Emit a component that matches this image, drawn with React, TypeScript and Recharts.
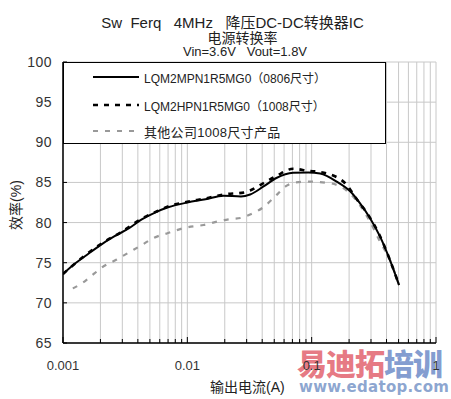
import React from 'react';
import { LineChart, Line, XAxis, YAxis, CartesianGrid } from 'recharts';

// LQM2MPN1R5MG0 (0806) - solid black
const mpCurrent = [0.001, 0.00125, 0.0015, 0.002, 0.0026, 0.0034, 0.0043, 0.0055, 0.007, 0.01, 0.014, 0.0195, 0.027, 0.032, 0.041, 0.052, 0.071, 0.094, 0.117, 0.159, 0.204, 0.245, 0.295, 0.355, 0.427, 0.505];
const mpEff = [73.6, 74.9, 75.8, 77.2, 78.3, 79.3, 80.4, 81.25, 81.9, 82.5, 82.9, 83.35, 83.25, 83.5, 84.5, 85.55, 86.2, 86.25, 86.1, 85.1, 83.9, 82.4, 80.55, 78.25, 75.3, 72.2];

// LQM2HPN1R5MG0 (1008) - dashed black
const hpCurrent = [0.001, 0.0015, 0.002, 0.003, 0.0043, 0.0055, 0.007, 0.01, 0.014, 0.0195, 0.0286, 0.032, 0.041, 0.052, 0.071, 0.094, 0.117, 0.141, 0.186, 0.238, 0.287, 0.355, 0.427, 0.505];
const hpEff = [73.6, 75.9, 77.3, 78.9, 80.5, 81.3, 82.0, 82.6, 83.0, 83.5, 83.75, 84.0, 84.9, 85.8, 86.7, 86.45, 86.3, 86.0, 84.9, 82.6, 80.9, 78.3, 75.3, 72.2];

// other company 1008 - gray dashed
const otherCurrent = [0.0012, 0.00144, 0.0018, 0.00205, 0.0027, 0.0035, 0.0043, 0.0053, 0.007, 0.0099, 0.0135, 0.0183, 0.0214, 0.0274, 0.0319, 0.0408, 0.0508, 0.063, 0.0736, 0.094, 0.141, 0.204, 0.295, 0.355, 0.427, 0.505];
const otherEff = [71.8, 72.5, 73.7, 74.4, 75.4, 76.4, 77.2, 78.05, 78.7, 79.4, 79.7, 80.2, 80.4, 80.6, 81.0, 81.9, 83.25, 84.6, 85.0, 85.1, 84.9, 83.6, 80.1, 77.6, 75.3, 72.2];

const majorTicks = [0.001, 0.01, 0.1, 1];
const majorLabels = ['0.001', '0.01', '0.1', '1'];
const yTicks = [65, 70, 75, 80, 85, 90, 95, 100];

const xTicks: number[] = [];
[0.001, 0.01, 0.1].forEach((d) => {
  for (let m = 1; m <= 9; m++) xTicks.push(d * m);
});
xTicks.push(1);

const toData = (xs: number[], ys: number[]) => xs.map((i, k) => ({ i, eff: ys[k] }));

const PL = 63;
const PB = 343;
const FONT = '"Liberation Sans", Arial, "Noto Sans CJK SC", sans-serif';

const XTick = (props: any) => {
  const { x, payload } = props;
  const idx = majorTicks.findIndex((t) => Math.abs(Math.log10(t) - Math.log10(payload.value)) < 1e-6);
  return (
    <g>
      <line x1={x} y1={PB} x2={x} y2={PB - (idx >= 0 ? 6 : 4)} stroke="#000" strokeWidth={1} />
      {idx >= 0 && (
        <text x={x} y={370} textAnchor="middle" fontSize={13} fill="#333" fontFamily={FONT}>
          {majorLabels[idx]}
        </text>
      )}
    </g>
  );
};

const YTick = (props: any) => {
  const { y, payload } = props;
  return (
    <g>
      <line x1={PL} y1={y} x2={PL + 4} y2={y} stroke="#000" strokeWidth={1} />
      <text x={52} y={y + 5} textAnchor="end" fontSize={14} fill="#333" fontFamily={FONT} letterSpacing={0.5}>
        {payload.value}
      </text>
    </g>
  );
};

const legendItems = [
  { label: 'LQM2MPN1R5MG0（0806尺寸）', color: '#000', dash: undefined, width: 2.2 },
  { label: 'LQM2HPN1R5MG0（1008尺寸）', color: '#000', dash: '5 6', width: 2.6 },
  { label: '其他公司1008尺寸产品', color: '#999', dash: '5 7', width: 2.2 },
];
const legendRows = [76, 104, 130];

export default function App() {
  return (
    <div style={{ position: 'absolute', left: 0, top: 0, width: 451, height: 399, background: '#fff', fontFamily: FONT }}>
      {/* watermark sits under the chart svg */}
      <div style={{ position: 'absolute', left: 297, top: 347, fontSize: 30, fontWeight: 900, letterSpacing: -1, whiteSpace: 'nowrap', fontFamily: '"Noto Sans CJK SC", sans-serif', lineHeight: '30px' }}>
        <span style={{ color: 'rgba(226,98,110,0.85)' }}>易迪拓</span>
        <span style={{ color: 'rgba(110,140,200,0.85)' }}>培训</span>
      </div>
      <div style={{ position: 'absolute', left: 299, top: 379, fontSize: 15, lineHeight: '17px', fontWeight: 700, letterSpacing: 0.3, color: 'rgba(120,150,200,0.85)', whiteSpace: 'nowrap', fontFamily: '"DejaVu Sans", sans-serif' }}>
        www.edatop.com
      </div>

      <div style={{ position: 'absolute', left: 0, width: 465, top: 11, textAlign: 'center', fontSize: 15, color: '#222' }}>
        Sw&nbsp;&nbsp;Ferq&nbsp;&nbsp;&nbsp;4MHz&nbsp;&nbsp;&nbsp;降压DC-DC转换器IC
      </div>
      <div style={{ position: 'absolute', left: 0, width: 485, top: 27, textAlign: 'center', fontSize: 14, color: '#222' }}>
        电源转换率
      </div>
      <div style={{ position: 'absolute', left: 0, width: 490, top: 44, textAlign: 'center', fontSize: 13, color: '#222' }}>
        Vin=3.6V&nbsp;&nbsp;&nbsp;Vout=1.8V
      </div>

      <LineChart width={451} height={399} margin={{ top: 62, right: 15, bottom: 26, left: 23 }}>
        <CartesianGrid stroke="#c8c8c8" strokeWidth={1} />
        <XAxis
          dataKey="i"
          type="number"
          scale="log"
          domain={[0.001, 1]}
          ticks={xTicks}
          allowDataOverflow
          tick={<XTick />}
          tickLine={false}
          tickSize={0}
          height={30}
          interval={0}
          axisLine={{ stroke: '#000', strokeWidth: 1.5 }}
        />
        <YAxis
          type="number"
          domain={[65, 100]}
          ticks={yTicks}
          allowDataOverflow
          tick={<YTick />}
          tickLine={false}
          tickSize={0}
          width={40}
          interval={0}
          axisLine={{ stroke: '#000', strokeWidth: 1.5 }}
        />
        <Line data={toData(otherCurrent, otherEff)} dataKey="eff" type="monotone" stroke="#999" strokeWidth={2.2} strokeDasharray="5 7" dot={false} isAnimationActive={false} />
        <Line data={toData(hpCurrent, hpEff)} dataKey="eff" type="monotone" stroke="#000" strokeWidth={2.6} strokeDasharray="5 6" dot={false} isAnimationActive={false} />
        <Line data={toData(mpCurrent, mpEff)} dataKey="eff" type="monotone" stroke="#000" strokeWidth={2} dot={false} isAnimationActive={false} />
      </LineChart>

      <div style={{ position: 'absolute', left: PL, top: 62, width: 323, height: 82, boxSizing: 'border-box', border: '1px solid #000', background: '#fff' }}>
        {legendItems.map((it, k) => (
          <div key={k} style={{ position: 'absolute', left: 0, top: legendRows[k] - 62 - 10, height: 20, display: 'flex', alignItems: 'center' }}>
            <svg width={80} height={20}>
              <line x1={29} y1={10} x2={75} y2={10} stroke={it.color} strokeWidth={it.width} strokeDasharray={it.dash} />
            </svg>
            <span style={{ fontSize: k < 2 ? 12 : 13, color: '#222', letterSpacing: k < 2 ? 0 : 0.3, whiteSpace: 'nowrap' }}>{it.label}</span>
          </div>
        ))}
      </div>

      <div style={{ position: 'absolute', left: 5, top: 205, transform: 'translate(-50%, -50%) rotate(-90deg)', transformOrigin: 'center', marginLeft: 10, fontSize: 14, color: '#222', whiteSpace: 'nowrap' }}>
        效率(%)
      </div>
      <div style={{ position: 'absolute', left: 210, top: 376, fontSize: 14, color: '#222', whiteSpace: 'nowrap' }}>
        输出电流(A)
      </div>
    </div>
  );
}
